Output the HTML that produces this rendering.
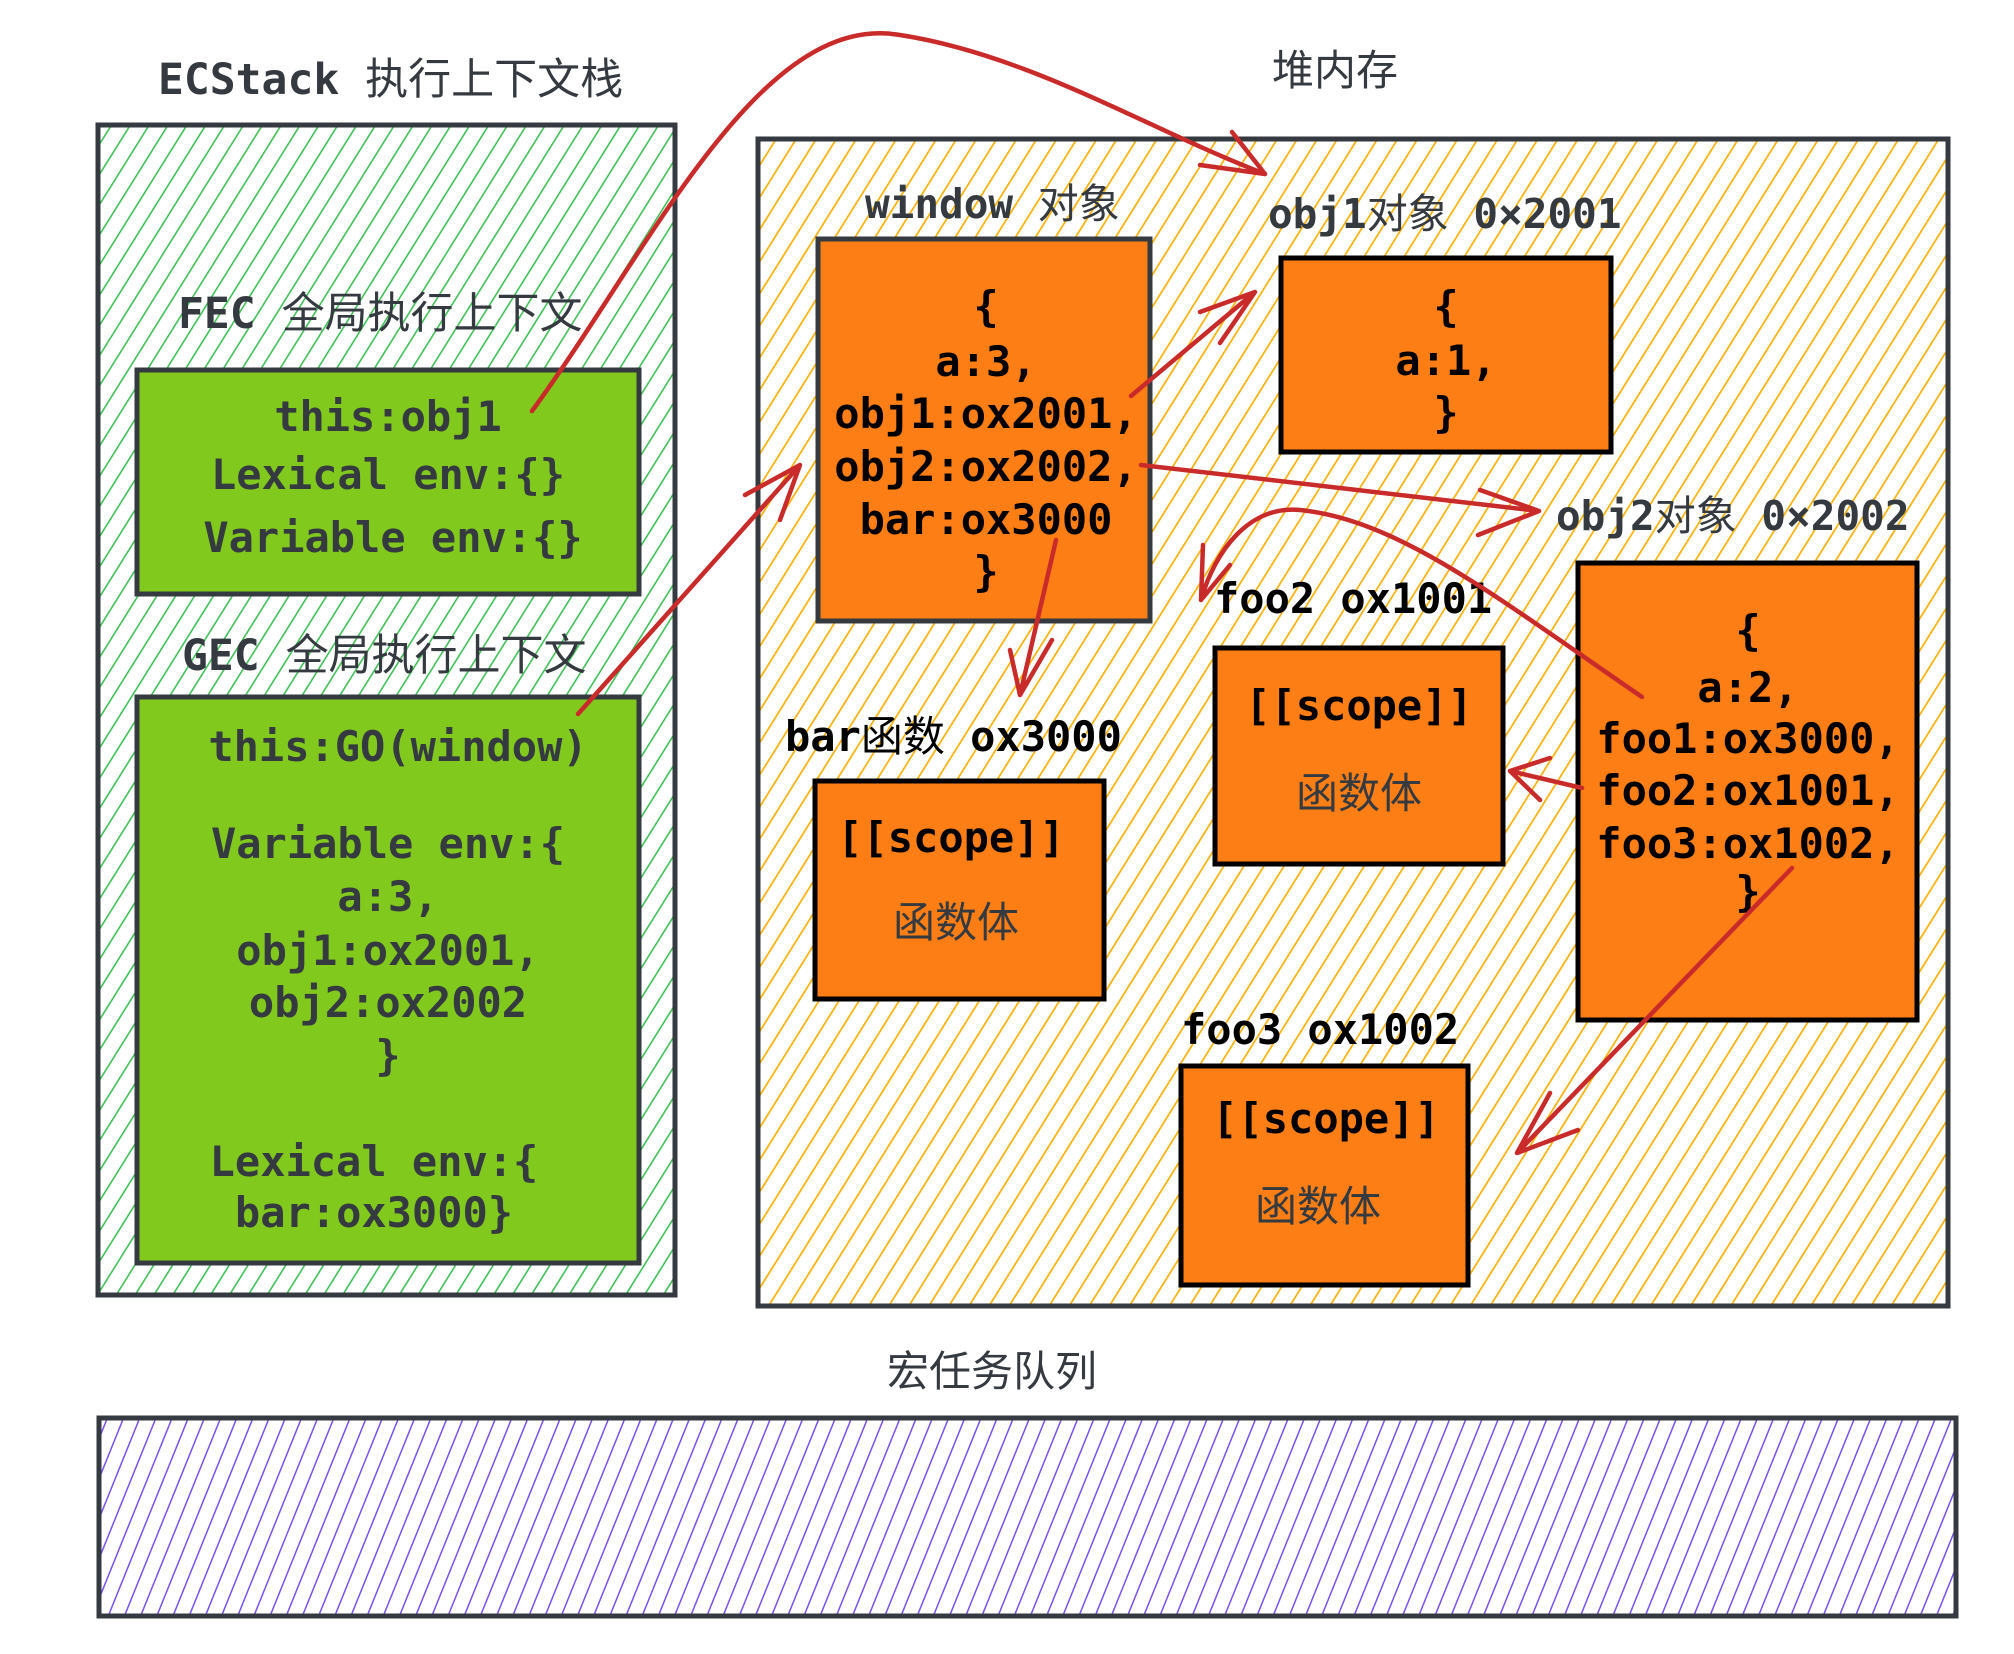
<!DOCTYPE html>
<html><head><meta charset="utf-8"><style>
html,body{margin:0;padding:0;background:#fff;}
svg{display:block;}
text{font-family:"DejaVu Sans Mono","Liberation Mono","Noto Sans CJK SC",monospace;font-weight:bold;}
.t{fill:#343a40;font-size:40px;}
.k{fill:#000;font-size:41px;}
.c, text.c, .c text{font-family:"Noto Sans CJK SC","WenQuanYi Zen Hei",sans-serif;font-weight:normal;}
</style></head><body>
<svg width="2014" height="1654" viewBox="0 0 2014 1654" xmlns="http://www.w3.org/2000/svg">
<defs>
<pattern id="hg" width="16" height="30" patternUnits="userSpaceOnUse" patternTransform="rotate(32)"><line x1="0" y1="0" x2="0" y2="30" stroke="#40c057" stroke-width="3.2"/></pattern>
<pattern id="ho" width="17" height="30" patternUnits="userSpaceOnUse" patternTransform="rotate(32)"><line x1="0" y1="0" x2="0" y2="30" stroke="#fab005" stroke-width="3.4"/></pattern>
<pattern id="hp" width="15" height="30" patternUnits="userSpaceOnUse" patternTransform="rotate(22)"><line x1="0" y1="0" x2="0" y2="30" stroke="#7950f2" stroke-width="3"/></pattern>
</defs>
<g stroke="#343a40" stroke-width="5">
<rect x="98" y="125" width="577" height="1170" fill="url(#hg)"/>
<rect x="758" y="139" width="1190" height="1167" fill="url(#ho)"/>
<rect x="99" y="1418" width="1857" height="198" fill="url(#hp)"/>
<rect x="137" y="370" width="502" height="224" fill="#82c91e"/>
<rect x="137" y="697" width="502" height="566" fill="#82c91e"/>
<rect x="818" y="239" width="332" height="382" fill="#fd7e14"/>
</g>
<g stroke="#000" stroke-width="5" fill="#fd7e14">
<rect x="1281" y="258" width="330" height="194"/>
<rect x="1578" y="563" width="339" height="457"/>
<rect x="1215" y="648" width="288" height="216"/>
<rect x="815" y="781" width="289" height="218"/>
<rect x="1181" y="1066" width="287" height="219"/>
</g>
<g class="t">
<text x="158" y="94" style="font-size:43px">ECStack <tspan class="c">执行上下文栈</tspan></text>
<text x="1272" y="85" class="c" style="font-size:42px">堆内存</text>
<text x="178" y="328" style="font-size:43px">FEC <tspan class="c">全局执行上下文</tspan></text>
<text x="182" y="670" style="font-size:43px">GEC <tspan class="c">全局执行上下文</tspan></text>
<text x="992" y="1386" class="c" text-anchor="middle" style="font-size:42px">宏任务队列</text>
<text x="865" y="218" style="font-size:41px">window <tspan class="c">对象</tspan></text>
<text x="1268" y="228" style="font-size:41px">obj1<tspan class="c">对象</tspan> 0×2001</text>
<text x="1556" y="530" style="font-size:41px">obj2<tspan class="c">对象</tspan> 0×2002</text>
</g>
<g class="t" text-anchor="middle" style="font-size:42px">
<text x="388" y="431">this:obj1</text>
<text x="388" y="489">Lexical env:{}</text>
<text x="393" y="552">Variable env:{}</text>
<text x="398" y="761">this:GO(window)</text>
<text x="388" y="858">Variable env:{</text>
<text x="388" y="911">a:3,</text>
<text x="388" y="965">obj1:ox2001,</text>
<text x="388" y="1017">obj2:ox2002</text>
<text x="388" y="1070">}</text>
<text x="374" y="1176">Lexical env:{</text>
<text x="374" y="1227">bar:ox3000}</text>
</g>
<g class="k" text-anchor="middle" style="font-size:42px">
<text x="986" y="321">{</text>
<text x="986" y="376">a:3,</text>
<text x="986" y="428">obj1:ox2001,</text>
<text x="986" y="481">obj2:ox2002,</text>
<text x="986" y="534">bar:ox3000</text>
<text x="986" y="586">}</text>
<text x="1446" y="321">{</text>
<text x="1446" y="375">a:1,</text>
<text x="1446" y="427">}</text>
<text x="1748" y="645">{</text>
<text x="1748" y="702">a:2,</text>
<text x="1748" y="753">foo1:ox3000,</text>
<text x="1748" y="805">foo2:ox1001,</text>
<text x="1748" y="858">foo3:ox1002,</text>
<text x="1748" y="906">}</text>
<text x="1359" y="720">[[scope]]</text>
<text x="951" y="852">[[scope]]</text>
<text x="1326" y="1133">[[scope]]</text>
</g>
<g class="k" style="font-size:42px">
<text x="1214" y="613">foo2 ox1001</text>
<text x="785" y="751">bar<tspan class="c">函数</tspan> ox3000</text>
<text x="1181" y="1044">foo3 ox1002</text>
</g>
<g class="t c" text-anchor="middle" style="font-size:42px">
<text class="c" x="1359" y="808">函数体</text>
<text class="c" x="956" y="937">函数体</text>
<text class="c" x="1318" y="1221">函数体</text>
</g>
<g stroke="#c92a2a" stroke-width="4.5" fill="none" stroke-linecap="round">
<path d="M532 411 C650 250 760 10 900 35 C1030 55 1150 130 1265 174"/>
<path d="M1265 174 L1200 165 M1265 174 L1232 132"/>
<path d="M578 714 L800 465 M800 465 L745 495 M800 465 L780 520"/>
<path d="M1131 396 L1255 292 M1255 292 L1200 312 M1255 292 L1220 343"/>
<path d="M1141 465 L1539 511 M1539 511 L1480 490 M1539 511 L1478 535"/>
<path d="M1056 540 L1020 695 M1020 695 L1010 650 M1020 695 L1052 640"/>
<path d="M1642 697 C1500 600 1400 520 1300 510 C1250 505 1215 550 1201 600 M1201 600 L1203 545 M1201 600 L1230 565"/>
<path d="M1582 788 L1510 771 M1510 771 L1550 758 M1510 771 L1540 800"/>
<path d="M1792 868 L1517 1153 M1517 1153 L1550 1093 M1517 1153 L1578 1130"/>
</g>
</svg>
</body></html>
